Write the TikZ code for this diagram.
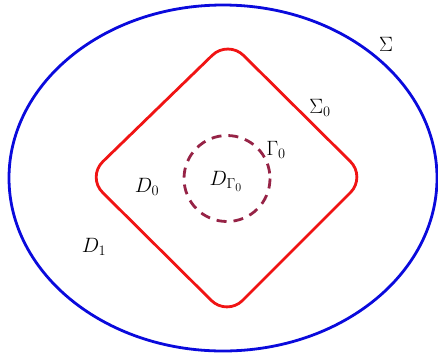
\documentclass[tikz,border=0pt]{standalone}
\begin{document}
\begin{tikzpicture}[x=1pt,y=-1pt,
  outer/.style={draw={rgb,255:red,10;green,10;blue,220}, line width=2.8pt},
  inner/.style={draw={rgb,255:red,240;green,20;blue,20}, line width=2.8pt, rounded corners=22pt},
  gammac/.style={draw={rgb,255:red,150;green,35;blue,70}, line width=2.8pt, dash pattern=on 10pt off 7pt},
  lab/.style={font=\huge, inner sep=0pt}]
\useasboundingbox (0,0) rectangle (438,354);
\draw[outer] (223,178) ellipse [x radius=214, y radius=173];
\draw[inner] (228,40) -- (366,177) -- (227,316) -- (87,177) -- cycle;
\draw[gammac] (227,178.5) circle [radius=43];
\node[lab] (sig) at (386,44) {$\Sigma$};
\node[lab] (sig0) at (320,108) {$\Sigma_0$};
\node[lab] (gam0) at (276,150) {$\Gamma_0$};
\node[lab] (dg) at (226,181) {$D_{\Gamma_0}$};
\node[lab] (d0) at (147,187) {$D_0$};
\node[lab] (d1) at (94,247) {$D_1$};
\end{tikzpicture}
\end{document}
